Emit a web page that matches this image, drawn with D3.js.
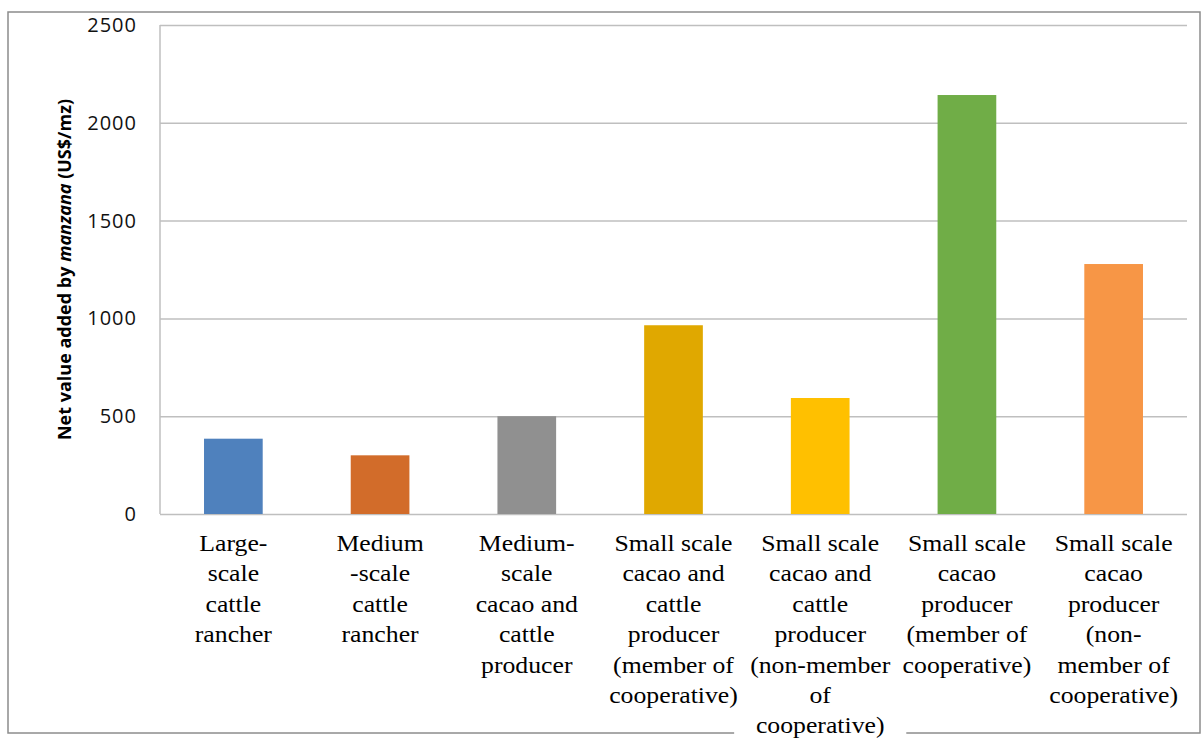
<!DOCTYPE html>
<html>
<head>
<meta charset="utf-8">
<script src="https://cdn.jsdelivr.net/npm/d3@7/dist/d3.min.js"></script>
<style>
body { margin: 0; background: #fff; }
</style>
</head>
<body>
<script>
// chart data
var categories = [
	["Large-", "scale", "cattle", "rancher"],
	["Medium", "-scale", "cattle", "rancher"],
	["Medium-", "scale", "cacao and", "cattle", "producer"],
	["Small scale", "cacao and", "cattle", "producer", "(member of", "cooperative)"],
	["Small scale", "cacao and", "cattle", "producer", "(non-member", "of", "cooperative)"],
	["Small scale", "cacao", "producer", "(member of", "cooperative)"],
	["Small scale", "cacao", "producer", "(non-", "member of", "cooperative)"]
];
var values = [385, 300, 500, 965, 593, 2142, 1278];
var colors = ["#4f81bd", "#d26c2a", "#909090", "#e0a800", "#ffc000", "#70ad47", "#f79646"];
var yTicks = [0, 500, 1000, 1500, 2000, 2500];

var width = 1202, height = 740;
var plotLeft = 160, plotRight = 1187, plotTop = 25, plotBottom = 514;

var svg = d3.select("body").append("svg")
		.attr("width", width)
		.attr("height", height);

// outer frame
svg.append("rect")
		.attr("x", 8)
		.attr("y", 12)
		.attr("width", 1192)
		.attr("height", 721)
		.attr("fill", "#fff")
		.attr("stroke", "#8c8c8c")
		.attr("stroke-width", 1.5);

var x = d3.scaleBand()
		.domain(d3.range(values.length))
		.range([plotLeft, plotRight])
		.paddingInner(0.6)
		.paddingOuter(0.3);

var y = d3.scaleLinear()
		.domain([0, 2500])
		.range([plotBottom, plotTop]);

// gridlines + tick labels
var yAxis = svg.append("g")
		.attr("transform", "translate(" + plotLeft + ",0)")
		.call(d3.axisLeft(y).tickValues(yTicks).tickFormat(d3.format("d"))
			.tickSize(-(plotRight - plotLeft)).tickPadding(23));

yAxis.select(".domain").remove();
yAxis.selectAll(".tick line")
		.attr("stroke", "#bfbfbf")
		.attr("stroke-width", 1.5);
yAxis.selectAll(".tick text")
		.attr("font-family", "'Open Sans', sans-serif")
		.attr("font-size", 20)
		.attr("letter-spacing", 1)
		.attr("fill", "#111");

// left axis line
svg.append("line")
		.attr("x1", plotLeft)
		.attr("y1", y(2500))
		.attr("x2", plotLeft)
		.attr("y2", y(0))
		.attr("stroke", "#bfbfbf")
		.attr("stroke-width", 1.5);

// bars
svg.selectAll(".bar")
		.data(values)
		.enter()
		.append("rect")
		.attr("class", "bar")
		.attr("x", function(d, i) { return x(i); })
		.attr("y", function(d) { return y(d); })
		.attr("width", x.bandwidth())
		.attr("height", function(d) { return y(0) - y(d); })
		.attr("fill", function(d, i) { return colors[i]; });

// category labels (slightly stretched, like the source image)
var labels = svg.selectAll(".cat")
		.data(categories)
		.enter()
		.append("g")
		.attr("class", "cat");

labels.each(function(lines, i) {
	var cx = x(i) + x.bandwidth() / 2;
	var g = d3.select(this);
	var bg = g.append("rect").attr("fill", "#fff");
	var t = g.append("text")
			.attr("transform", "translate(" + cx + ",0) scale(1.12,1)")
			.attr("text-anchor", "middle")
			.attr("font-family", "'Liberation Serif', 'Times New Roman', serif")
			.attr("font-size", 23)
			.attr("fill", "#000");
	t.selectAll("tspan")
			.data(lines)
			.enter()
			.append("tspan")
			.attr("x", 0)
			.attr("y", function(d, j) { return 551 + j * 30.4; })
			.text(function(d) { return d; });
	// white box under labels that cross the frame
	var b = t.node().getBBox();
	if (b.y + b.height > 725) {
		var w = b.width * 1.12;
		bg.attr("x", cx - w / 2 - 16).attr("y", b.y + b.height - 30)
			.attr("width", w + 32).attr("height", 30);
	}
});

// y axis title
var title = svg.append("text")
		.attr("transform", "translate(71," + ((plotTop + plotBottom) / 2) + ") rotate(-90)")
		.attr("text-anchor", "middle")
		.attr("font-family", "'Open Sans', sans-serif")
		.attr("font-size", 18)
		.attr("font-weight", "bold")
		.attr("fill", "#000");
title.append("tspan").text("Net value added by ");
title.append("tspan").attr("font-style", "italic").text("manzana");
title.append("tspan").text(" (US$/mz)");
</script>
</body>
</html>
